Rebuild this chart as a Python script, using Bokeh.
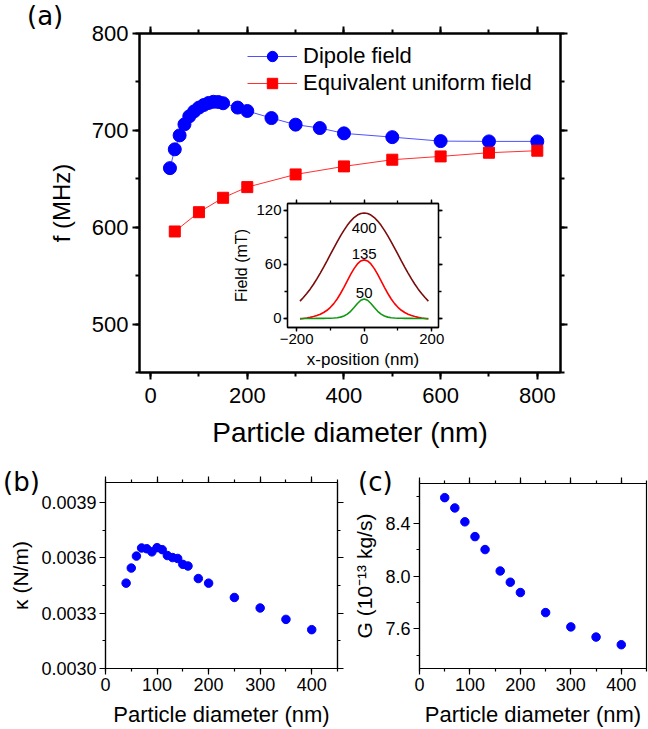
from bokeh.plotting import figure
from bokeh.models import (GridBox, LinearAxis, SingleIntervalTicker, Range1d, Div,
                          Legend, LegendItem, PrintfTickFormatter)
from bokeh.core.properties import value
from bokeh.embed import file_html
from bokeh.resources import INLINE

FONT = "Liberation Sans"
PFONT = "DejaVu Sans"

# ---------------- data (a) ----------------
dia_dipole = [40, 50, 60, 70, 80, 90, 100, 110, 120, 130, 140, 150, 180, 200, 250, 300, 350, 400, 500, 600, 700, 800]
f_dipole = [661.0, 680.4, 694.8, 706.2, 714.5, 719.6, 723.5, 726.2, 728.3, 729.5, 729.3, 728.0,
            723.5, 720.0, 712.7, 705.9, 702.4, 696.9, 693.0, 688.9, 688.6, 688.6]
dia_uniform = [50, 100, 150, 200, 300, 400, 500, 600, 700, 800]
f_uniform = [595.6, 615.5, 630.4, 641.4, 654.5, 662.8, 669.7, 673.1, 676.9, 679.0]

# ---------------- data (inset) ----------------
inset_x = [-190, -180, -170, -160, -150, -140, -130, -120, -110, -100, -90, -80, -70, -60, -50, -40, -30, -20, -10,
           0, 10, 20, 30, 40, 50, 60, 70, 80, 90, 100, 110, 120, 130, 140, 150, 160, 170, 180, 190]
field_400 = [19.2, 23.2, 27.6, 32.5, 38.0, 43.9, 50.3, 57.0, 63.9, 71.0, 78.0, 85.0, 91.6, 97.7, 103.3, 108.0, 111.9, 114.7, 116.4,
             117.0, 116.4, 114.7, 111.9, 108.0, 103.3, 97.7, 91.6, 85.0, 78.0, 71.0, 63.9, 57.0, 50.3, 43.9, 38.0, 32.5, 27.6, 23.2, 19.2]
field_135 = [-0.5, 0.0, 0.5, 1.2, 2.1, 3.2, 4.7, 6.6, 9.1, 12.4, 16.5, 21.6, 27.7, 34.5, 41.7, 48.8, 55.3, 60.5, 63.8,
             65.0, 63.8, 60.5, 55.3, 48.8, 41.7, 34.5, 27.7, 21.6, 16.5, 12.4, 9.1, 6.6, 4.7, 3.2, 2.1, 1.2, 0.5, 0.0, -0.5]
field_50 = [0.0, 0.0, 0.0, 0.0, 0.0, 0.1, 0.1, 0.1, 0.2, 0.3, 0.5, 0.8, 1.5, 2.7, 4.8, 8.0, 12.2, 16.6, 20.2,
            21.5, 20.2, 16.6, 12.2, 8.0, 4.8, 2.7, 1.5, 0.8, 0.5, 0.3, 0.2, 0.1, 0.1, 0.1, 0.0, 0.0, 0.0, 0.0, 0.0]
inset_label_text = ["400", "135", "50"]
inset_label_x = [0, 0, 0]
inset_label_y = [100, 72, 28]

# ---------------- data (b) ----------------
dia_b = [40, 50, 60, 70, 80, 90, 100, 110, 120, 130, 140, 150, 160, 180, 200, 250, 300, 350, 400]
kappa = [0.003463, 0.003545, 0.003610, 0.003654, 0.003650, 0.003633, 0.003656, 0.003645, 0.003613, 0.003602,
         0.003597, 0.003565, 0.003556, 0.003488, 0.003463, 0.003385, 0.003328, 0.003266, 0.003210]

# ---------------- data (c) ----------------
dia_c = [50, 70, 90, 110, 130, 160, 180, 200, 250, 300, 350, 400]
gamma = [8.593, 8.515, 8.410, 8.298, 8.200, 8.038, 7.953, 7.875, 7.723, 7.615, 7.538, 7.480]

panel_labels = ["(a)", "(b)", "(c)"]


def make_fig(w, h, xr, yr, bl, br, bt, bb, left, top, transparent=False):
    p = figure(width=w, height=h, x_range=Range1d(*xr), y_range=Range1d(*yr),
               output_backend="svg", toolbar_location=None,
               min_border_left=bl, min_border_right=br, min_border_top=bt, min_border_bottom=bb,
               background_fill_color="white", border_fill_color="white")
    p.frame_align = False
    if transparent:
        p.border_fill_alpha = 0
    p.xgrid.visible = False
    p.ygrid.visible = False
    p.outline_line_color = "black"
    p.margin = (top, 0, 0, left)
    return p


def style_axis(ax, tick_size, lw, tout, mout, label_size=None, standoff=5, lab_standoff=5):
    ax.axis_line_color = "black"
    ax.axis_line_width = lw
    ax.major_tick_line_width = lw
    ax.minor_tick_line_width = lw
    ax.major_tick_out = tout
    ax.major_tick_in = 0
    ax.minor_tick_out = mout
    ax.minor_tick_in = 0
    ax.major_label_text_font = FONT
    ax.major_label_text_font_size = tick_size
    ax.major_label_text_color = "black"
    ax.major_label_standoff = lab_standoff
    ax.axis_label_text_font = FONT
    ax.axis_label_text_font_style = "normal"
    ax.axis_label_text_color = "black"
    if label_size:
        ax.axis_label_text_font_size = label_size
    ax.axis_label_standoff = standoff


def mirror(p, loc, ticker, lw, tout, mout):
    ax = LinearAxis(ticker=ticker)
    style_axis(ax, "0px", lw, tout, mout, lab_standoff=0, standoff=0)
    ax.major_label_text_alpha = 0
    p.add_layout(ax, loc)


def panel_div(text, left, top):
    return Div(text=text, width=50, height=28, margin=(top, 0, 0, left),
               styles={"font-family": PFONT, "font-size": "26px", "line-height": "28px",
                       "color": "black", "white-space": "nowrap"})


# ================= (a) main =================
pa = make_fig(600, 455, (-23, 848), (450, 800), 139, 40, 33, 83, 0, 0)
pa.outline_line_width = 2
pa.xaxis.ticker = SingleIntervalTicker(interval=200, num_minor_ticks=2)
pa.yaxis.ticker = SingleIntervalTicker(interval=100, num_minor_ticks=2)
pa.xaxis.axis_label = "Particle diameter (nm)"
pa.yaxis.axis_label = "f (MHz)"
style_axis(pa.xaxis[0], "22px", 2, 7, 4, "28px", standoff=11, lab_standoff=8)
style_axis(pa.yaxis[0], "22px", 2, 7, 4, "24px", standoff=14, lab_standoff=4)
mirror(pa, "above", SingleIntervalTicker(interval=200, num_minor_ticks=2), 2, 7, 4)
mirror(pa, "right", SingleIntervalTicker(interval=100, num_minor_ticks=2), 2, 7, 4)

l1 = pa.line(dia_dipole, f_dipole, line_color="#5050ff", line_width=1)
s1 = pa.scatter(dia_dipole, f_dipole, marker="circle", size=13, color="#0000ff")
l2 = pa.line(dia_uniform, f_uniform, line_color="#ff3030", line_width=1)
s2 = pa.scatter(dia_uniform, f_uniform, marker="square", size=11, color="#ff0000")
leg = Legend(items=[LegendItem(label="Dipole field", renderers=[l1, s1]),
                    LegendItem(label="Equivalent uniform field", renderers=[l2, s2])],
             location=(108, 276), glyph_width=50, glyph_height=26, spacing=1, padding=0, margin=0,
             label_standoff=6, label_text_font=FONT, label_text_font_size="22px",
             label_text_color="black",
             border_line_color=None, background_fill_alpha=0)
pa.add_layout(leg)

# ================= inset =================
pi = make_fig(222, 179, (-227, 220), (-10, 127.5), 53, 14, 7, 48, 230, 196, transparent=True)
pi.outline_line_width = 1.3
pi.xaxis.ticker = SingleIntervalTicker(interval=200, num_minor_ticks=2)
pi.yaxis.ticker = SingleIntervalTicker(interval=60, num_minor_ticks=2)
pi.xaxis.axis_label = "x-position (nm)"
pi.yaxis.axis_label = "Field (mT)"
style_axis(pi.xaxis[0], "15px", 1.3, 4, 3, "17px", standoff=3, lab_standoff=2)
style_axis(pi.yaxis[0], "15px", 1.3, 4, 3, "16px", standoff=3, lab_standoff=2)
mirror(pi, "above", SingleIntervalTicker(interval=200, num_minor_ticks=2), 1.3, 4, 3)
mirror(pi, "right", SingleIntervalTicker(interval=60, num_minor_ticks=2), 1.3, 4, 3)
pi.line(inset_x, field_400, line_color="#7a0c0c", line_width=1.6)
pi.line(inset_x, field_135, line_color="#ff0000", line_width=1.6)
pi.line(inset_x, field_50, line_color="#119911", line_width=1.6)
pi.text(inset_label_x, inset_label_y, text=inset_label_text, text_font=value(FONT), text_font_size="15px",
        text_align="center", text_baseline="middle", text_color="black")

# ================= (b) =================
pb = make_fig(350, 274, (0, 450), (0.002999, 0.00401), 105, 13, 27, 59, 0, 455)
pb.outline_line_width = 1.2
pb.xaxis.ticker = SingleIntervalTicker(interval=100, num_minor_ticks=2)
pb.yaxis.ticker = SingleIntervalTicker(interval=0.0003, num_minor_ticks=2)
pb.yaxis.formatter = PrintfTickFormatter(format="%.4f")
pb.xaxis.axis_label = "Particle diameter (nm)"
pb.yaxis.axis_label = "κ (N/m)"
style_axis(pb.xaxis[0], "18px", 1.2, 6, 3, "22px", standoff=8, lab_standoff=3)
style_axis(pb.yaxis[0], "18px", 1.2, 6, 3, "21px", standoff=6, lab_standoff=3)
mirror(pb, "above", SingleIntervalTicker(interval=100, num_minor_ticks=2), 1.2, 6, 3)
mirror(pb, "right", SingleIntervalTicker(interval=0.0003, num_minor_ticks=2), 1.2, 6, 3)
pb.scatter(dia_b, kappa, marker="circle", size=8.5, color="#0000ff")

# ================= (c) =================
pc = make_fig(298, 274, (0, 450), (7.3, 8.7), 66, 2, 28, 59, 350, 455)
pc.outline_line_width = 1.2
pc.xaxis.ticker = SingleIntervalTicker(interval=100, num_minor_ticks=2)
pc.yaxis.ticker = SingleIntervalTicker(interval=0.4, num_minor_ticks=2)
pc.yaxis.formatter = PrintfTickFormatter(format="%.1f")
pc.xaxis.axis_label = "Particle diameter (nm)"
pc.yaxis.axis_label = "G (10⁻¹³ kg/s)"
style_axis(pc.xaxis[0], "18px", 1.2, 6, 3, "22px", standoff=8, lab_standoff=3)
style_axis(pc.yaxis[0], "18px", 1.2, 6, 3, "21px", standoff=6, lab_standoff=3)
mirror(pc, "above", SingleIntervalTicker(interval=100, num_minor_ticks=2), 1.2, 6, 3)
pc.scatter(dia_c, gamma, marker="circle", size=8.5, color="#0000ff")

da = panel_div(panel_labels[0], 27, 2)
db = panel_div(panel_labels[1], 3, 468)
dc = panel_div(panel_labels[2], 358, 468)

root = GridBox(children=[(pa, 0, 0), (pi, 0, 0), (pb, 0, 0), (pc, 0, 0),
                         (da, 0, 0), (db, 0, 0), (dc, 0, 0)])

open("out.html", "w").write(file_html(root, INLINE))
